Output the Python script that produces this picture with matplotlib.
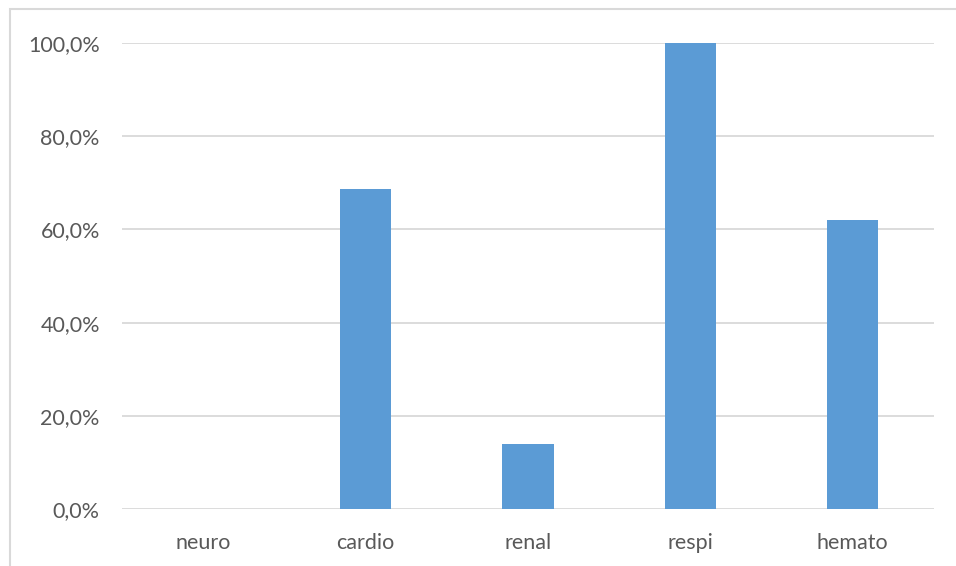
import matplotlib.pyplot as plt
from matplotlib.patches import Rectangle
from matplotlib.ticker import FuncFormatter

categories = ['neuro', 'cardio', 'renal', 'respi', 'hemato']
values = [0.0, 68.7, 14.0, 100.0, 62.0]
y_ticks = [0, 20, 40, 60, 80, 100]

plt.rcParams['font.family'] = ['Lato', 'DejaVu Sans']

W, H = 956, 566
fig = plt.figure(figsize=(W / 100, H / 100), dpi=100)
ax = fig.add_axes([122 / W, 1 - 509 / H, (934 - 122) / W, (509 - 43) / H])

x = range(len(categories))
ax.bar(x, values, width=0.315, color='#5b9bd5', zorder=3)

ax.set_xlim(-0.5, len(categories) - 0.5)
ax.set_ylim(0, 100)
ax.set_yticks(y_ticks)
ax.yaxis.set_major_formatter(FuncFormatter(lambda v, p: f'{v:.1f}%'.replace('.', ',')))
ax.set_xticks(list(x))
ax.set_xticklabels(categories)

ax.grid(axis='y', color='#d9d9d9', linewidth=1.3, zorder=0)
for s in ax.spines.values():
    s.set_visible(False)
ax.tick_params(axis='both', length=0, labelsize=15.5, labelcolor='#595959')
ax.tick_params(axis='y', pad=16)
ax.tick_params(axis='x', pad=17)

# chart-area border (only left and top edges are visible)
fig.patches.append(Rectangle((9.5 / W, -0.1), 2, 1.1 - 8.5 / H, transform=fig.transFigure,
                             fill=False, edgecolor='#d9d9d9', linewidth=1.5))

fig.savefig('out.png', dpi=100)
